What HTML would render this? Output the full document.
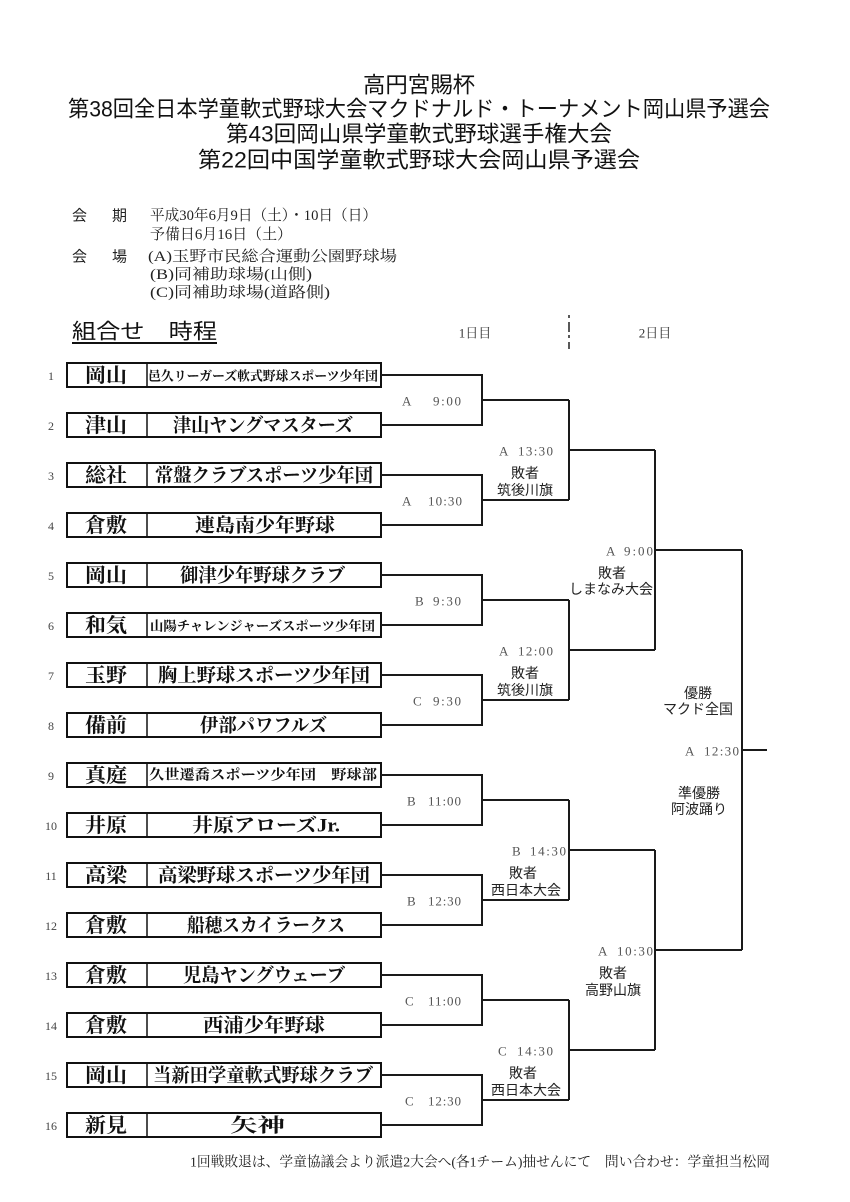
<!DOCTYPE html>
<html><head><meta charset="utf-8">
<style>
html,body{margin:0;padding:0;background:#fff;}
svg{display:block;}
.sans{font-family:"Liberation Sans","Noto Sans CJK JP",sans-serif;}
.serif{font-family:"Liberation Serif","Noto Serif CJK SC",serif;}
</style></head>
<body>
<svg width="850" height="1202" viewBox="0 0 850 1202" xmlns="http://www.w3.org/2000/svg">
<rect width="850" height="1202" fill="#fff"/>
<!-- Titles -->
<g class="sans" font-size="22" fill="#111" text-anchor="middle" dominant-baseline="central">
<text x="419" y="85" textLength="112" lengthAdjust="spacingAndGlyphs">高円宮賜杯</text>
<text x="419" y="109" textLength="702" lengthAdjust="spacingAndGlyphs">第38回全日本学童軟式野球大会マクドナルド・トーナメント岡山県予選会</text>
<text x="419" y="134" textLength="386" lengthAdjust="spacingAndGlyphs">第43回岡山県学童軟式野球選手権大会</text>
<text x="419" y="160" textLength="442" lengthAdjust="spacingAndGlyphs">第22回中国学童軟式野球大会岡山県予選会</text>
</g>
<!-- Info -->
<g font-size="15" fill="#222" dominant-baseline="central">
<text class="sans" x="72" y="216">会</text><text class="sans" x="112" y="216">期</text>
<text class="serif" x="150" y="216" textLength="227" lengthAdjust="spacingAndGlyphs">平成30年6月9日（土）・10日（日）</text>
<text class="serif" x="150" y="235" textLength="142" lengthAdjust="spacingAndGlyphs">予備日6月16日（土）</text>
<text class="sans" x="72" y="257">会</text><text class="sans" x="112" y="257">場</text>
<text class="serif" x="148" y="257" textLength="249" lengthAdjust="spacingAndGlyphs">(A)玉野市民総合運動公園野球場</text>
<text class="serif" x="150" y="275" textLength="162" lengthAdjust="spacingAndGlyphs">(B)同補助球場(山側)</text>
<text class="serif" x="150" y="293" textLength="180" lengthAdjust="spacingAndGlyphs">(C)同補助球場(道路側)</text>
</g>
<!-- Section heading -->
<text class="sans" x="72" y="332" font-size="21" fill="#111" dominant-baseline="central" textLength="145" lengthAdjust="spacingAndGlyphs">組合せ　時程</text>
<line x1="72" y1="343" x2="217" y2="343" stroke="#111" stroke-width="2"/>
<!-- Day headers -->
<g class="serif" font-size="13" fill="#333" text-anchor="middle" dominant-baseline="central">
<text x="475" y="333">1日目</text>
<text x="655" y="333">2日目</text>
</g>
<line x1="569" y1="315" x2="569" y2="349" stroke="#222" stroke-width="1.5" stroke-dasharray="3,4,10,3"/>

<!-- Team boxes -->
<g fill="none" stroke="#111" stroke-width="2">
<rect x="67" y="363" width="314" height="24"/><rect x="67" y="413" width="314" height="24"/>
<rect x="67" y="463" width="314" height="24"/><rect x="67" y="513" width="314" height="24"/>
<rect x="67" y="563" width="314" height="24"/><rect x="67" y="613" width="314" height="24"/>
<rect x="67" y="663" width="314" height="24"/><rect x="67" y="713" width="314" height="24"/>
<rect x="67" y="763" width="314" height="24"/><rect x="67" y="813" width="314" height="24"/>
<rect x="67" y="863" width="314" height="24"/><rect x="67" y="913" width="314" height="24"/>
<rect x="67" y="963" width="314" height="24"/><rect x="67" y="1013" width="314" height="24"/>
<rect x="67" y="1063" width="314" height="24"/><rect x="67" y="1113" width="314" height="24"/>
</g>
<g stroke="#111" stroke-width="1.5">
<line x1="147" y1="363" x2="147" y2="387"/><line x1="147" y1="413" x2="147" y2="437"/>
<line x1="147" y1="463" x2="147" y2="487"/><line x1="147" y1="513" x2="147" y2="537"/>
<line x1="147" y1="563" x2="147" y2="587"/><line x1="147" y1="613" x2="147" y2="637"/>
<line x1="147" y1="663" x2="147" y2="687"/><line x1="147" y1="713" x2="147" y2="737"/>
<line x1="147" y1="763" x2="147" y2="787"/><line x1="147" y1="813" x2="147" y2="837"/>
<line x1="147" y1="863" x2="147" y2="887"/><line x1="147" y1="913" x2="147" y2="937"/>
<line x1="147" y1="963" x2="147" y2="987"/><line x1="147" y1="1013" x2="147" y2="1037"/>
<line x1="147" y1="1063" x2="147" y2="1087"/><line x1="147" y1="1113" x2="147" y2="1137"/>
</g>
<!-- Seed numbers -->
<g class="serif" font-size="12" fill="#444" text-anchor="middle" dominant-baseline="central">
<text x="51" y="376">1</text><text x="51" y="426">2</text><text x="51" y="476">3</text><text x="51" y="526">4</text>
<text x="51" y="576">5</text><text x="51" y="626">6</text><text x="51" y="676">7</text><text x="51" y="726">8</text>
<text x="51" y="776">9</text><text x="51" y="826">10</text><text x="51" y="876">11</text><text x="51" y="926">12</text>
<text x="51" y="976">13</text><text x="51" y="1026">14</text><text x="51" y="1076">15</text><text x="51" y="1126">16</text>
</g>
<!-- Region names -->
<g class="serif" font-size="20" font-weight="bold" fill="#111" text-anchor="middle" dominant-baseline="central">
<text x="106" y="376" textLength="42" lengthAdjust="spacingAndGlyphs">岡山</text>
<text x="106" y="426" textLength="42" lengthAdjust="spacingAndGlyphs">津山</text>
<text x="106" y="476" textLength="42" lengthAdjust="spacingAndGlyphs">総社</text>
<text x="106" y="526" textLength="42" lengthAdjust="spacingAndGlyphs">倉敷</text>
<text x="106" y="576" textLength="42" lengthAdjust="spacingAndGlyphs">岡山</text>
<text x="106" y="626" textLength="42" lengthAdjust="spacingAndGlyphs">和気</text>
<text x="106" y="676" textLength="42" lengthAdjust="spacingAndGlyphs">玉野</text>
<text x="106" y="726" textLength="42" lengthAdjust="spacingAndGlyphs">備前</text>
<text x="106" y="776" textLength="42" lengthAdjust="spacingAndGlyphs">真庭</text>
<text x="106" y="826" textLength="42" lengthAdjust="spacingAndGlyphs">井原</text>
<text x="106" y="876" textLength="42" lengthAdjust="spacingAndGlyphs">高梁</text>
<text x="106" y="926" textLength="42" lengthAdjust="spacingAndGlyphs">倉敷</text>
<text x="106" y="976" textLength="42" lengthAdjust="spacingAndGlyphs">倉敷</text>
<text x="106" y="1026" textLength="42" lengthAdjust="spacingAndGlyphs">倉敷</text>
<text x="106" y="1076" textLength="42" lengthAdjust="spacingAndGlyphs">岡山</text>
<text x="106" y="1126" textLength="42" lengthAdjust="spacingAndGlyphs">新見</text>
</g>
<!-- Club names -->
<g class="serif" font-weight="bold" fill="#111" dominant-baseline="central">
<text x="148" y="376" font-size="13" textLength="230" lengthAdjust="spacingAndGlyphs">邑久リーガーズ軟式野球スポーツ少年団</text>
<text x="173" y="426" font-size="19" textLength="180" lengthAdjust="spacingAndGlyphs">津山ヤングマスターズ</text>
<text x="155" y="476" font-size="19" textLength="218" lengthAdjust="spacingAndGlyphs">常盤クラブスポーツ少年団</text>
<text x="195" y="526" font-size="19" textLength="140" lengthAdjust="spacingAndGlyphs">連島南少年野球</text>
<text x="180" y="576" font-size="19" textLength="165" lengthAdjust="spacingAndGlyphs">御津少年野球クラブ</text>
<text x="150" y="626" font-size="13" textLength="225" lengthAdjust="spacingAndGlyphs">山陽チャレンジャーズスポーツ少年団</text>
<text x="158" y="676" font-size="19" textLength="212" lengthAdjust="spacingAndGlyphs">胸上野球スポーツ少年団</text>
<text x="200" y="726" font-size="19" textLength="127" lengthAdjust="spacingAndGlyphs">伊部パワフルズ</text>
<text x="149" y="776" font-size="14" textLength="228" lengthAdjust="spacingAndGlyphs">久世遷喬スポーツ少年団　野球部</text>
<text x="192" y="826" font-size="19" textLength="148" lengthAdjust="spacingAndGlyphs">井原アローズJr.</text>
<text x="158" y="876" font-size="19" textLength="212" lengthAdjust="spacingAndGlyphs">高梁野球スポーツ少年団</text>
<text x="187" y="926" font-size="19" textLength="158" lengthAdjust="spacingAndGlyphs">船穂スカイラークス</text>
<text x="183" y="976" font-size="19" textLength="162" lengthAdjust="spacingAndGlyphs">児島ヤングウェーブ</text>
<text x="203" y="1026" font-size="19" textLength="122" lengthAdjust="spacingAndGlyphs">西浦少年野球</text>
<text x="153" y="1076" font-size="19" textLength="220" lengthAdjust="spacingAndGlyphs">当新田学童軟式野球クラブ</text>
<text x="230" y="1126" font-size="19" textLength="55" lengthAdjust="spacingAndGlyphs">矢神</text>
</g>

<!-- Bracket lines -->
<g fill="none" stroke="#1a1a1a" stroke-width="2" stroke-linejoin="miter">
<path d="M381 375H482V425H381M482 400H569"/>
<path d="M381 475H482V525H381M482 500H569"/>
<path d="M381 575H482V625H381M482 600H569"/>
<path d="M381 675H482V725H381M482 700H569"/>
<path d="M381 775H482V825H381M482 800H569"/>
<path d="M381 875H482V925H381M482 900H569"/>
<path d="M381 975H482V1025H381M482 1000H569"/>
<path d="M381 1075H482V1125H381M482 1100H569"/>
<path d="M569 400V500M569 450H655"/>
<path d="M569 600V700M569 650H655"/>
<path d="M569 800V900M569 850H655"/>
<path d="M569 1000V1100M569 1050H655"/>
<path d="M655 450V650M655 550H742"/>
<path d="M655 850V1050M655 950H742"/>
<path d="M742 550V950M742 750H767"/>
</g>

<!-- Round 1 time labels -->
<g class="serif" font-size="13" fill="#555" dominant-baseline="central">
<text x="402" y="401">A</text><text x="461" y="401" text-anchor="end" textLength="28" lengthAdjust="spacing">9:00</text>
<text x="402" y="501">A</text><text x="462" y="501" text-anchor="end" textLength="34" lengthAdjust="spacing">10:30</text>
<text x="415" y="601">B</text><text x="461" y="601" text-anchor="end" textLength="28" lengthAdjust="spacing">9:30</text>
<text x="413" y="701">C</text><text x="461" y="701" text-anchor="end" textLength="28" lengthAdjust="spacing">9:30</text>
<text x="407" y="801">B</text><text x="461" y="801" text-anchor="end" textLength="33" lengthAdjust="spacing">11:00</text>
<text x="407" y="901">B</text><text x="461" y="901" text-anchor="end" textLength="33" lengthAdjust="spacing">12:30</text>
<text x="405" y="1001">C</text><text x="461" y="1001" text-anchor="end" textLength="33" lengthAdjust="spacing">11:00</text>
<text x="405" y="1101">C</text><text x="461" y="1101" text-anchor="end" textLength="33" lengthAdjust="spacing">12:30</text>
</g>
<!-- Round 2 labels -->
<g class="serif" font-size="13" fill="#555" dominant-baseline="central">
<text x="499" y="451">A</text><text x="553" y="451" text-anchor="end" textLength="35" lengthAdjust="spacing">13:30</text>
<text x="499" y="651">A</text><text x="553" y="651" text-anchor="end" textLength="35" lengthAdjust="spacing">12:00</text>
<text x="512" y="851">B</text><text x="566" y="851" text-anchor="end" textLength="36" lengthAdjust="spacing">14:30</text>
<text x="498" y="1051">C</text><text x="553" y="1051" text-anchor="end" textLength="36" lengthAdjust="spacing">14:30</text>
<!-- Round 3 -->
<text x="606" y="551">A</text><text x="653" y="551" text-anchor="end" textLength="29" lengthAdjust="spacing">9:00</text>
<text x="598" y="951">A</text><text x="653" y="951" text-anchor="end" textLength="36" lengthAdjust="spacing">10:30</text>
<!-- Final -->
<text x="685" y="751">A</text><text x="739" y="751" text-anchor="end" textLength="35" lengthAdjust="spacing">12:30</text>
</g>
<!-- Sub labels -->
<g class="sans" font-size="14" fill="#222" text-anchor="middle" dominant-baseline="central">
<text x="525" y="473">敗者</text><text x="525" y="490">筑後川旗</text>
<text x="525" y="673">敗者</text><text x="525" y="690">筑後川旗</text>
<text x="523" y="873">敗者</text><text x="526" y="890">西日本大会</text>
<text x="523" y="1073">敗者</text><text x="526" y="1090">西日本大会</text>
<text x="612" y="573">敗者</text><text x="611" y="589">しまなみ大会</text>
<text x="613" y="973">敗者</text><text x="613" y="990">高野山旗</text>
<text x="698" y="693">優勝</text><text x="698" y="709">マクド全国</text>
<text x="699" y="793">準優勝</text><text x="699" y="809">阿波踊り</text>
</g>

<!-- Footer -->
<text class="serif" x="190" y="1163" font-size="14" fill="#222" dominant-baseline="central" textLength="580" lengthAdjust="spacingAndGlyphs">1回戦敗退は、学童協議会より派遣2大会へ(各1チーム)抽せんにて　問い合わせ：学童担当松岡</text>
</svg>
</body></html>
